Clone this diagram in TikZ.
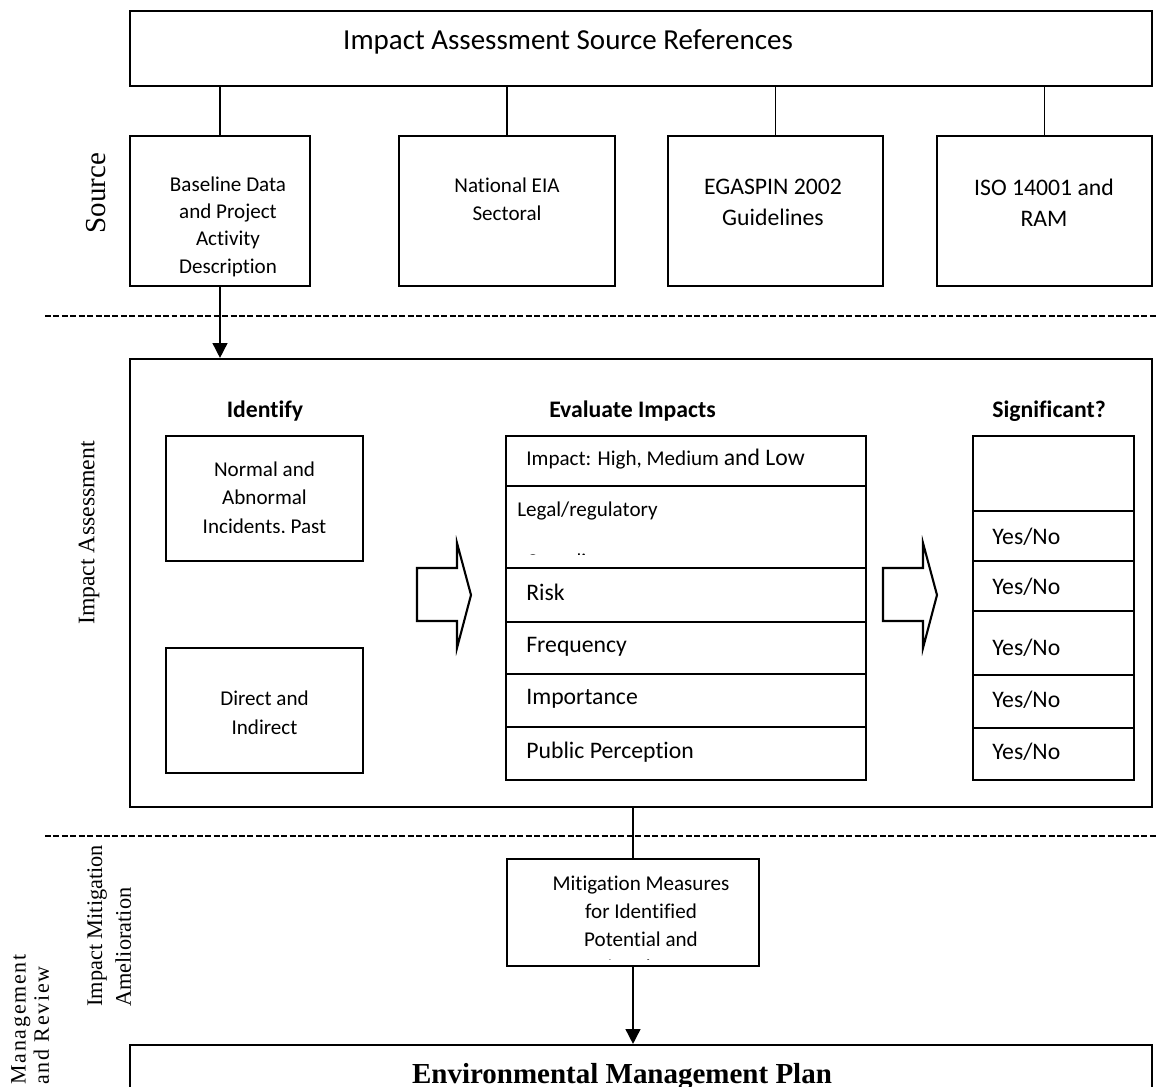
\documentclass[tikz,border=0pt]{standalone}
\usepackage{fontspec}
\setmainfont{Carlito}[Ligatures=NoCommon]
\newfontfamily\timesfont{Liberation Serif}
\newfontfamily\timesspaced[LetterSpace=8]{Liberation Serif}
\usetikzlibrary{arrows.meta,fit}

\newcommand{\fs}[2]{\fontsize{#1}{#2}\selectfont}

\begin{document}
\begin{tikzpicture}[x=0.02cm,y=-0.02cm,
  frame/.style={draw,line width=1.2pt,inner sep=0pt},
  cell/.style={draw,line width=1.1pt,inner sep=0pt},
  link/.style={line width=0.9pt},
  arrowlink/.style={line width=0.9pt,-{Triangle[width=8.5pt,length=8.5pt]}},
  separator/.style={line width=0.8pt,dash pattern=on 3.4pt off 1.4pt},
  blockarrow/.style={draw,line width=1.2pt,line join=miter},
  lbl/.style={inner sep=0pt,align=center},
  rowtxt/.style={inner sep=0pt,anchor=base west},
]
\useasboundingbox (0,0) rectangle (1156,1087);
\clip (0,0) rectangle (1156,1087);

% ---------------- Source references ----------------
\node[frame,fit={(130,11)(1152,86)}] (refs) {};
\node[lbl,anchor=base,font=\fs{16.5}{20}] (refst) at (568,50) {Impact Assessment Source References};

\node[frame,fit={(130,136)(310,286)}] (base) {};
\node[frame,fit={(399,136)(615,286)}] (nat) {};
\node[frame,fit={(668,136)(883,286)}] (ega) {};
\node[frame,fit={(937,136)(1152,286)}] (iso) {};

\node[lbl,font=\fs{12}{15.6}] (baset) at (228,226.5) {Baseline Data\\and Project\\Activity\\Description};
\node[lbl,font=\fs{12}{15.9}] (natt) at (507,199) {National EIA\\Sectoral};
\node[lbl,font=\fs{13.5}{17.6}] (egat) at (773,202.5) {EGASPIN 2002\\Guidelines};
\node[lbl,font=\fs{13.5}{17.6}] (isot) at (1044,203) {ISO 14001 and\\RAM};

\foreach \b in {base,nat,ega,iso} \draw[link] (refs.south -| \b.north) -- (\b.north);

\node[lbl,rotate=90,font=\timesfont\fs{16.5}{20}] (srclbl) at (96,193) {Source};

% ---------------- separators ----------------
\coordinate (sepAw) at (45,316);
\coordinate (sepAe) at (1156,316);
\draw[separator] (sepAw) -- (sepAe);
\coordinate (sepBw) at (45,836);
\coordinate (sepBe) at (1156,836);
\draw[separator] (sepBw) -- (sepBe);

% ---------------- Impact assessment ----------------
\node[frame,fit={(130,359)(1152,807)}] (ia) {};
\draw[arrowlink] (base.south) -- (base.south |- ia.north);

\node[lbl,rotate=90,font=\timesfont\fs{13.5}{16}] (ialbl) at (89,533) {Impact Assessment};

\node[lbl,font=\bfseries\fs{13.5}{16}] (hid) at (265,411) {Identify};
\node[lbl,font=\bfseries\fs{13.5}{16}] (hev) at (632.5,411) {Evaluate Impacts};
\node[lbl,font=\bfseries\fs{13.5}{16}] (hsg) at (1049,411) {Significant?};

% identify column
\node[frame,fit={(166,436)(363,561)}] (normal) {};
\begin{scope}
  \clip (166,436) rectangle (363,533);
  \node[lbl,font=\fs{12}{16.2}] (normalt) at (264.5,499) {Normal and\\Abnormal\\Incidents, Past};
\end{scope}
\node[frame,fit={(166,648)(363,773)}] (direct) {};
\node[lbl,font=\fs{12}{16.4}] (directt) at (264.5,712.5) {Direct and\\Indirect};

% evaluation table
\node[cell,fit={(506,436)(866,486)}] (ev1) {};
\node[cell,fit={(506,486)(866,568)}] (ev2) {};
\node[cell,fit={(506,568)(866,622)}] (ev3) {};
\node[cell,fit={(506,622)(866,674)}] (ev4) {};
\node[cell,fit={(506,674)(866,727)}] (ev5) {};
\node[cell,fit={(506,727)(866,780)}] (ev6) {};

\node[rowtxt] (ev1t) at (526,465.5) {\fs{12}{14}Impact: High, Medium \fs{13.5}{16}and Low};
\node[rowtxt,font=\fs{12}{14}] (ev2t) at (517,517) {Legal/regulatory};
\begin{scope}
  \clip (506,486) rectangle (866,554);
  \node[rowtxt,font=\fs{12}{14}] (ev2u) at (526,568) {Compliance};
\end{scope}
\node[rowtxt,font=\fs{13.5}{16}] (ev3t) at (526,600.5) {Risk};
\node[rowtxt,font=\fs{13.5}{16}] (ev4t) at (526,652) {Frequency};
\node[rowtxt,font=\fs{13.5}{16}] (ev5t) at (526,704.5) {Importance};
\node[rowtxt,font=\fs{13.5}{16}] (ev6t) at (526,758) {Public Perception};

% significance table
\node[cell,fit={(973,436)(1134,511)}] (sg1) {};
\node[cell,fit={(973,511)(1134,561)}] (sg2) {};
\node[cell,fit={(973,561)(1134,611)}] (sg3) {};
\node[cell,fit={(973,611)(1134,675)}] (sg4) {};
\node[cell,fit={(973,675)(1134,728)}] (sg5) {};
\node[cell,fit={(973,728)(1134,780)}] (sg6) {};

\node[rowtxt,font=\fs{13.5}{16}] (sg2t) at (992,544.5) {Yes/No};
\node[rowtxt,font=\fs{13.5}{16}] (sg3t) at (992,594.5) {Yes/No};
\node[rowtxt,font=\fs{13.5}{16}] (sg4t) at (992,655.5) {Yes/No};
\node[rowtxt,font=\fs{13.5}{16}] (sg5t) at (992,707.5) {Yes/No};
\node[rowtxt,font=\fs{13.5}{16}] (sg6t) at (992,759.5) {Yes/No};

% block arrows between the columns
\draw[blockarrow] (417,568) -- (457,568) -- (457,543) -- (471,595) -- (457,648) -- (457,621) -- (417,621) -- cycle;
\draw[blockarrow] (883,568) -- (923,568) -- (923,543) -- (937,595) -- (923,648) -- (923,621) -- (883,621) -- cycle;

% ---------------- Mitigation ----------------
\node[frame,fit={(507,859)(759,966)}] (mit) {};
\draw[link] (mit.north |- ia.south) -- (mit.north);
\begin{scope}
  \clip (507,859) rectangle (759,959);
  \node[lbl,font=\fs{12}{15.9}] (mitt) at (641,927) {Mitigation Measures\\for Identified\\Potential and\\Associated Impacts};
\end{scope}

\node[lbl,rotate=90,anchor=north west,align=left,font=\timesfont\fs{12.7}{16.4}] (mitlbl) at (87,1007) {Impact Mitigation\\Amelioration};
\node[lbl,rotate=90,anchor=north west,align=left,font=\timesspaced\fs{12.5}{13.2}] (mgmtlbl) at (11,1085) {Management\\and Review};

% ---------------- Management plan ----------------
\node[frame,fit={(130,1045)(1152,1130)}] (emp) {};
\draw[arrowlink] (mit.south) -- (mit.south |- emp.north);
\node[lbl,anchor=base,font=\timesfont\bfseries\fs{16.5}{20}] (empt) at (622,1083) {Environmental Management Plan};

\end{tikzpicture}
\end{document}
